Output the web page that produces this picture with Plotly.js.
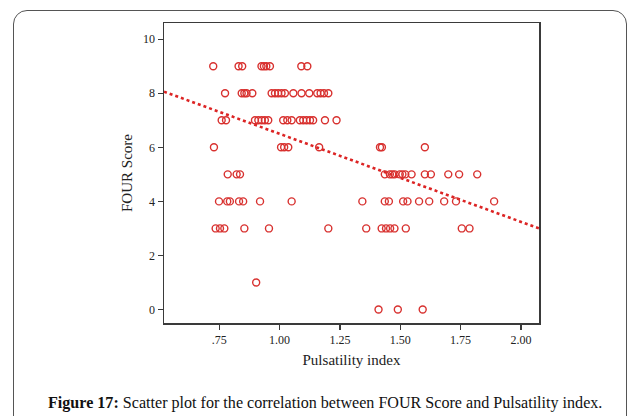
<!DOCTYPE html>
<html>
<head>
<meta charset="utf-8">
<script src="https://cdn.plot.ly/plotly-3.0.1.min.js"></script>
<style>
  html, body { margin: 0; padding: 0; background: #fff; }
  #frame {
    position: absolute; left: 13px; top: 10px; width: 614px; height: 420px;
    border: 1.5px solid #555; border-radius: 14px; box-sizing: border-box;
  }
  #chart { position: absolute; left: 0; top: 0; width: 635px; height: 416px; }
</style>
</head>
<body>
<div id="frame"></div>
<div id="chart"></div>
<script>
// Pulsatility index (x) and FOUR score (y) for each patient, grouped by score
const score9 = [0.725, 0.83, 0.845, 0.925, 0.935, 0.945, 0.96, 1.09, 1.115];
const score8 = [0.774, 0.843, 0.854, 0.863, 0.887, 0.967, 0.981, 0.994, 1.008, 1.022,
                1.057, 1.091, 1.123, 1.156, 1.170, 1.184, 1.202];
const score7 = [0.760, 0.778, 0.898, 0.912, 0.926, 0.939, 0.953, 1.015, 1.032, 1.050,
                1.084, 1.098, 1.112, 1.126, 1.139, 1.188, 1.236];
const score6 = [0.728, 1.006, 1.019, 1.036, 1.164, 1.416, 1.424, 1.602];
const score5 = [0.785, 0.822, 0.836, 1.436, 1.457, 1.467, 1.477, 1.498, 1.509, 1.521,
                1.547, 1.602, 1.627, 1.699, 1.744, 1.819];
const score4 = [0.749, 0.783, 0.794, 0.832, 0.849, 0.919, 1.050, 1.343, 1.436, 1.453,
                1.512, 1.530, 1.578, 1.620, 1.682, 1.731, 1.889];
const score3 = [0.735, 0.753, 0.771, 0.854, 0.956, 1.202, 1.359, 1.423, 1.441, 1.458,
                1.476, 1.523, 1.755, 1.787];
const score1 = [0.903];
const score0 = [1.410, 1.490, 1.593];

const scoreGroups = [
  [9, score9], [8, score8], [7, score7], [6, score6], [5, score5],
  [4, score4], [3, score3], [1, score1], [0, score0]
];

// Linear fit of FOUR score on pulsatility index (full cohort)
const fitIntercept = 9.756;
const fitSlope = -3.256;

const xTickVals = [0.75, 1.00, 1.25, 1.50, 1.75, 2.00];
const xTickText = ['.75', '1.00', '1.25', '1.50', '1.75', '2.00'];
const yTickVals = [0, 2, 4, 6, 8, 10];

// Flatten the groups into x/y columns
const px = [], py = [];
scoreGroups.forEach(([s, xs]) => xs.forEach(v => { px.push(v); py.push(s); }));

const xRange = [0.521, 2.075];
const fitX = xRange.slice();
const fitY = fitX.map(x => fitIntercept + fitSlope * x);

const red = '#d8312f';
const serif = 'Liberation Serif, Times New Roman, serif';

const traces = [
  {
    x: fitX, y: fitY, mode: 'lines', type: 'scatter',
    line: { color: '#dc2424', width: 2.6, dash: 'dot' },
    hoverinfo: 'skip', showlegend: false
  },
  {
    x: px, y: py, mode: 'markers', type: 'scatter',
    marker: { symbol: 'circle-open', size: 7, color: red, line: { width: 1.4, color: red } },
    showlegend: false
  }
];

const axisCommon = {
  showgrid: false, zeroline: false,
  showline: true, mirror: true, linecolor: '#3a3a3a', linewidth: 1.5,
  ticks: 'outside', ticklen: 5, tickwidth: 1.3, tickcolor: '#3a3a3a',
  tickfont: { family: serif, size: 12, color: '#222' }
};

const layout = {
  width: 635, height: 416,
  margin: { l: 164, r: 96, t: 23, b: 93 },
  paper_bgcolor: 'rgba(0,0,0,0)', plot_bgcolor: '#fff',
  xaxis: Object.assign({}, axisCommon, {
    range: xRange, tickvals: xTickVals, ticktext: xTickText,
    title: { text: 'Pulsatility index', font: { family: serif, size: 15, color: '#222' }, standoff: 8 }
  }),
  yaxis: Object.assign({}, axisCommon, {
    range: [-0.5, 10.6], tickvals: yTickVals,
    title: { text: 'FOUR Score', font: { family: serif, size: 15, color: '#222' }, standoff: 7 }
  }),
  annotations: [{
    xref: 'paper', yref: 'paper', x: 0.43, y: -0.265, xanchor: 'center', yanchor: 'middle',
    showarrow: false,
    text: '<b>Figure 17:</b> Scatter plot for the correlation between FOUR Score and Pulsatility index.',
    font: { family: serif, size: 16.1, color: '#111' }
  }]
};

Plotly.newPlot('chart', traces, layout, { displayModeBar: false, staticPlot: true });
</script>
</body>
</html>
